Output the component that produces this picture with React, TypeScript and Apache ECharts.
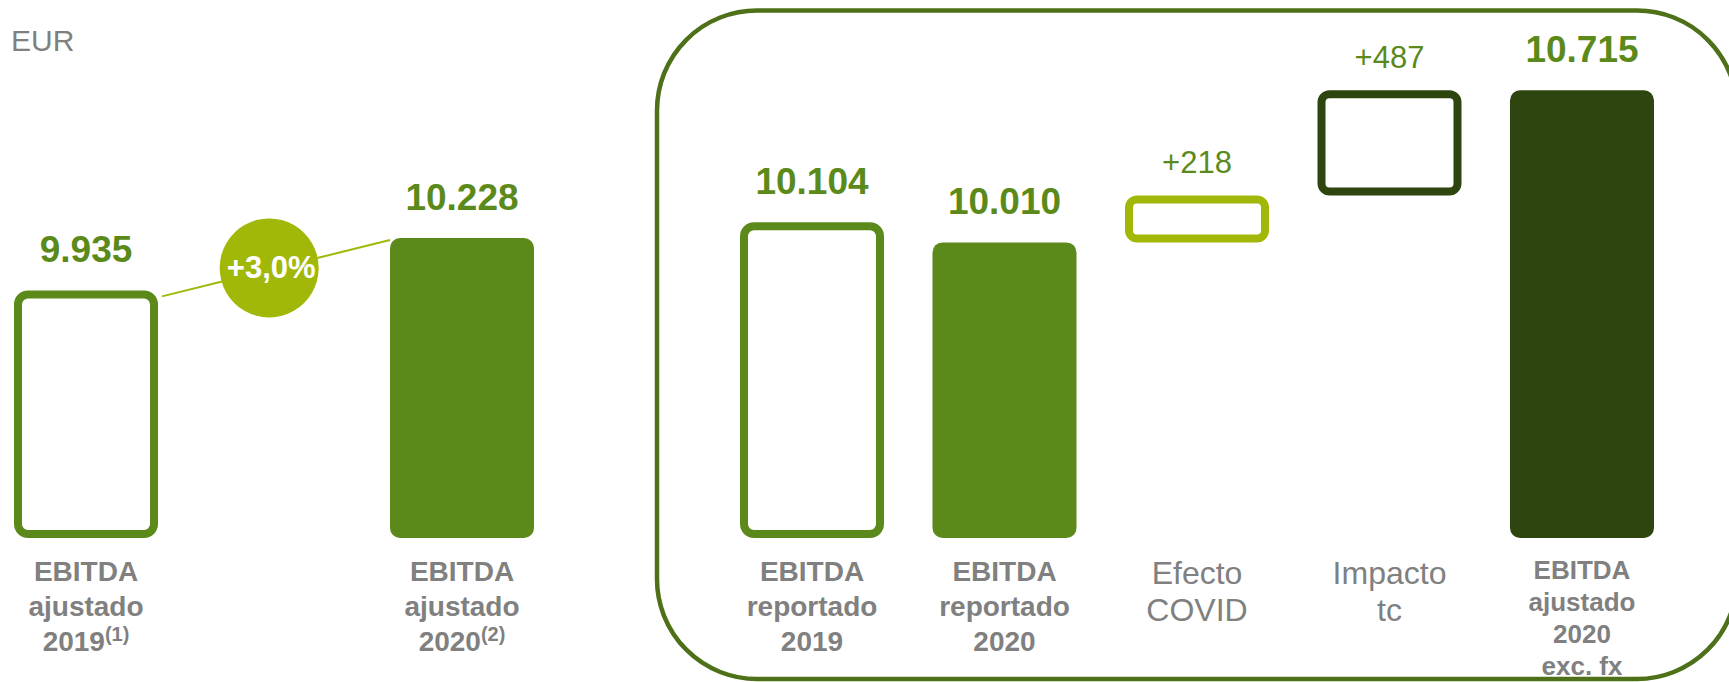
import React, { useEffect, useRef } from "react";
import * as echarts from "echarts";

// ---- data ----
const leftCategories = ["EBITDA\najustado\n2019", "EBITDA\najustado\n2020"];
const leftNotes = ["(1)", "(2)"];
const leftValues = [9935, 10228];
const growthLabel = "+3,0%";

const rightCategories = [
  "EBITDA\nreportado\n2019",
  "EBITDA\nreportado\n2020",
  "Efecto\nCOVID",
  "Impacto\ntc",
  "EBITDA\najustado\n2020\nexc. fx",
];
const rightTotals: (number | null)[] = [10104, 10010, null, null, 10715];
const rightDeltas: (number | null)[] = [null, null, 218, 487, null];
const unitLabel = "EUR";

// broken value axes (bars start at these values)
const leftAxisFrom = 8550;
const leftAxisTo = 11000;
const rightAxisFrom = 8640;
const rightAxisTo = 10800;

// ---- styles ----
const GREEN = "#5b8a1a";
const DARK = "#2e4510";
const LIME = "#a2b808";
const BOX = "#4d7019";
const GRAY = "#808080";
const FONT = "'Liberation Sans', Arial, Helvetica, sans-serif";

const fmt = (v: number) => String(v).replace(/\B(?=(\d{3})+(?!\d))/g, ".");

export default function App() {
  const ref = useRef<HTMLDivElement>(null);

  useEffect(() => {
    if (!ref.current) return;
    const chart = echarts.init(ref.current, undefined, { renderer: "svg" });

    // waterfall bases from data
    const bases: (number | string)[] = [];
    let running = 0;
    rightTotals.forEach((t, i) => {
      const d = rightDeltas[i];
      if (t != null) {
        running = t;
        bases.push("-");
      } else if (d != null) {
        bases.push(running - rightAxisFrom);
        running += d;
      } else bases.push("-");
    });

    const leftItemStyles = [
      { color: "#ffffff", borderColor: GREEN, borderWidth: 8, borderRadius: 10 },
      { color: GREEN, borderRadius: 10 },
    ];
    const rightTotalStyles: any[] = [
      { color: "#ffffff", borderColor: GREEN, borderWidth: 8, borderRadius: 10 },
      { color: GREEN, borderRadius: 10 },
      null,
      null,
      { color: DARK, borderRadius: 10 },
    ];
    const rightDeltaStyles: any[] = [
      null,
      null,
      { color: "#ffffff", borderColor: LIME, borderWidth: 8, borderRadius: 8 },
      { color: "#ffffff", borderColor: DARK, borderWidth: 8, borderRadius: 8 },
      null,
    ];
    const rightLabelKeys = ["b", "b", "r", "r", "s"];

    const rich = {
      b: { fontSize: 28, fontWeight: "bold", lineHeight: 35, color: GRAY, fontFamily: FONT },
      r: { fontSize: 32, fontWeight: "normal", lineHeight: 37, color: GRAY, fontFamily: FONT },
      s: { fontSize: 26, fontWeight: "bold", lineHeight: 32, color: GRAY, fontFamily: FONT },
      sup: {
        fontSize: 20,
        fontWeight: "bold",
        lineHeight: 28,
        verticalAlign: "top",
        color: GRAY,
        fontFamily: FONT,
      },
    };

    const valueLabel = {
      show: true,
      position: "top",
      distance: 22,
      fontSize: 37,
      lineHeight: 37,
      fontWeight: "bold",
      color: GREEN,
      fontFamily: FONT,
      formatter: (p: any) => fmt(p.data.raw),
    };

    chart.setOption({
      animation: false,
      title: {
        text: unitLabel,
        left: 11,
        top: 25,
        padding: 0,
        textStyle: { fontSize: 30, fontWeight: "normal", color: GRAY, fontFamily: FONT, lineHeight: 30 },
      },
      grid: [
        { left: 86, width: 376, top: 100, height: 438 },
        { left: 812, width: 770, top: 72, height: 466 },
      ],
      xAxis: [
        {
          type: "category",
          gridIndex: 0,
          data: leftCategories,
          boundaryGap: false,
          axisLine: { show: false },
          axisTick: { show: false },
          splitLine: { show: false },
          axisLabel: {
            interval: 0,
            margin: 16,
            formatter: (v: string, i: number) => {
              const lines = v.split("\n");
              return lines
                .map((l, k) => (k === lines.length - 1 ? `{b|${l}}{sup|${leftNotes[i]}}` : `{b|${l}}`))
                .join("\n");
            },
            rich,
          },
        },
        {
          type: "category",
          gridIndex: 1,
          data: rightCategories,
          boundaryGap: false,
          axisLine: { show: false },
          axisTick: { show: false },
          splitLine: { show: false },
          axisLabel: {
            interval: 0,
            margin: 16,
            formatter: (v: string, i: number) =>
              v
                .split("\n")
                .map((l) => `{${rightLabelKeys[i]}|${l}}`)
                .join("\n"),
            rich,
          },
        },
      ],
      yAxis: [
        { type: "value", gridIndex: 0, min: 0, max: leftAxisTo - leftAxisFrom, show: false, splitLine: { show: false } },
        { type: "value", gridIndex: 1, min: 0, max: rightAxisTo - rightAxisFrom, show: false, splitLine: { show: false } },
      ],
      series: [
        {
          type: "bar",
          xAxisIndex: 0,
          yAxisIndex: 0,
          barWidth: 144,
          clip: false,
          data: leftValues.map((v, i) => ({ value: v - leftAxisFrom, raw: v, itemStyle: leftItemStyles[i] })),
          label: valueLabel,
          z: 3,
        },
        {
          type: "bar",
          xAxisIndex: 1,
          yAxisIndex: 1,
          stack: "w",
          barWidth: 144,
          clip: false,
          data: rightTotals.map((v, i) =>
            v == null ? "-" : { value: v - rightAxisFrom, raw: v, itemStyle: rightTotalStyles[i] }
          ),
          label: valueLabel,
          z: 3,
        },
        {
          type: "bar",
          xAxisIndex: 1,
          yAxisIndex: 1,
          stack: "w",
          barWidth: 144,
          clip: false,
          silent: true,
          itemStyle: { color: "rgba(0,0,0,0)" },
          data: bases,
          z: 1,
        },
        {
          type: "bar",
          xAxisIndex: 1,
          yAxisIndex: 1,
          stack: "w",
          barWidth: 144,
          clip: false,
          data: rightDeltas.map((v, i) => (v == null ? "-" : { value: v, itemStyle: rightDeltaStyles[i] })),
          label: {
            show: true,
            position: "top",
            distance: 17,
            fontSize: 31,
            lineHeight: 31,
            fontWeight: "normal",
            color: GREEN,
            fontFamily: FONT,
            formatter: (p: any) => "+" + fmt(p.value),
          },
          z: 3,
        },
      ],
    });

    // connector + growth bubble, positioned from the data
    const p1 = chart.convertToPixel({ xAxisIndex: 0, yAxisIndex: 0 }, [0, leftValues[0] - leftAxisFrom]) as number[];
    const p2 = chart.convertToPixel({ xAxisIndex: 0, yAxisIndex: 0 }, [1, leftValues[1] - leftAxisFrom]) as number[];
    const a = [p1[0] + 76, p1[1] + 6];
    const b = [p2[0] - 72, p2[1] + 2];
    const t = 0.47;
    const cx = a[0] + (b[0] - a[0]) * t;
    const cy = a[1] + (b[1] - a[1]) * t - 2;

    chart.setOption({
      graphic: [
        {
          type: "rect",
          shape: { x: 657, y: 10.5, width: 1080, height: 668.5, r: 100 },
          style: { fill: "none", stroke: BOX, lineWidth: 4.5 },
          silent: true,
          z: 0,
        },
        {
          type: "line",
          shape: { x1: a[0], y1: a[1], x2: b[0], y2: b[1] },
          style: { stroke: LIME, lineWidth: 2 },
          silent: true,
          z: 5,
        },
        {
          type: "circle",
          shape: { cx, cy, r: 49.5 },
          style: { fill: LIME },
          silent: true,
          z: 6,
        },
        {
          type: "text",
          x: cx + 2,
          y: cy,
          style: {
            text: growthLabel,
            fill: "#ffffff",
            font: `bold 31px ${FONT}`,
            align: "center",
            verticalAlign: "middle",
          },
          silent: true,
          z: 7,
        },
      ],
    });

    return () => chart.dispose();
  }, []);

  return (
    <div
      ref={ref}
      style={{ position: "absolute", left: 0, top: 0, width: 1729, height: 682 }}
    />
  );
}
